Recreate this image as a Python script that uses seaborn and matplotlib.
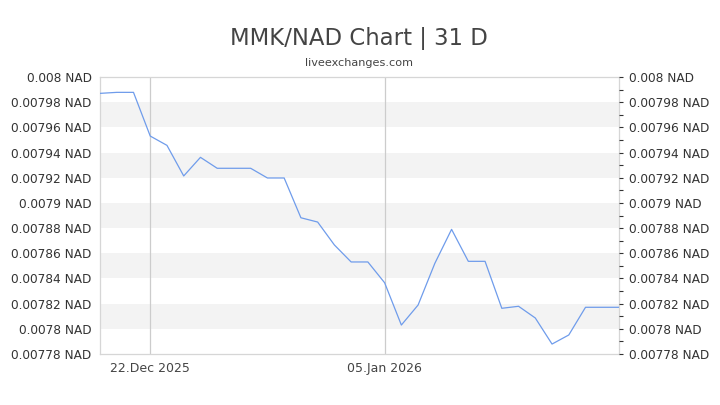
import matplotlib
matplotlib.use("Agg")
import matplotlib.pyplot as plt
import matplotlib.dates as mdates
from matplotlib.ticker import FixedLocator
import seaborn as sns
import pandas as pd

dates = pd.date_range("2025-12-19", "2026-01-19", freq="D")
rates = [0.0079870, 0.0079878, 0.0079878, 0.0079531, 0.0079457, 0.0079214,
         0.0079362, 0.0079275, 0.0079275, 0.0079275, 0.0079198, 0.0079198,
         0.0078882, 0.0078848, 0.0078666, 0.0078531, 0.0078531, 0.0078366,
         0.0078030, 0.0078189, 0.0078520, 0.0078790, 0.0078536, 0.0078536,
         0.0078163, 0.0078179, 0.0078086, 0.0077879, 0.0077951, 0.0078171,
         0.0078171, 0.0078171]
y_ticks = [0.00778, 0.0078, 0.00782, 0.00784, 0.00786, 0.00788, 0.0079,
           0.00792, 0.00794, 0.00796, 0.00798, 0.008]
y_labels = ["0.00778 NAD", "0.0078 NAD", "0.00782 NAD", "0.00784 NAD",
            "0.00786 NAD", "0.00788 NAD", "0.0079 NAD", "0.00792 NAD",
            "0.00794 NAD", "0.00796 NAD", "0.00798 NAD", "0.008 NAD"]
x_tick_dates = pd.to_datetime(["2025-12-22", "2026-01-05"])
x_labels = ["22.Dec 2025", "05.Jan 2026"]
title = "MMK/NAD Chart | 31 D"
subtitle = "liveexchanges.com"

df = pd.DataFrame({"date": dates, "rate": rates})

sns.set_theme(style="white")
plt.rcParams["font.family"] = ["DejaVu Sans"]

fig = plt.figure(figsize=(7.2, 4.05), dpi=100)
ax = fig.add_axes([100/720, 1-354/405, 519/720, 277/405])

# alternating bands
for i in range(len(y_ticks) - 1):
    if i % 2 == 1:
        ax.axhspan(y_ticks[i], y_ticks[i+1], color="#f3f3f3", lw=0, zorder=0)

for d in x_tick_dates:
    ax.axvline(d, color="#cccccc", lw=0.9, zorder=1)

sns.lineplot(data=df, x="date", y="rate", ax=ax, color="#6f9ceb", lw=0.9, zorder=3)

ax.set_xlim(dates[0], dates[-1])
ax.set_ylim(y_ticks[0], y_ticks[-1])
ax.set_xlabel("")
ax.set_ylabel("")
ax.set_yticks(y_ticks)
ax.set_yticklabels(y_labels)
ax.set_xticks(x_tick_dates)
ax.set_xticklabels(x_labels)
ax.tick_params(axis="y", length=0, pad=6, labelsize=8.7, colors="#333333")
ax.tick_params(axis="x", length=0, pad=6, labelsize=9, labelcolor="#444444")
for s in ax.spines.values():
    s.set_color("#d6d6d6")
    s.set_linewidth(0.9)
ax.grid(False)

ax2 = ax.twinx()
ax2.set_ylim(y_ticks[0], y_ticks[-1])
ax2.set_yticks(y_ticks)
ax2.set_yticklabels(y_labels)
minor = [y_ticks[0] + 0.00001 * k for k in range(1, 22, 2)]
ax2.yaxis.set_minor_locator(FixedLocator(minor))
ax2.tick_params(axis="y", which="major", length=3, width=0.8, color="#333333",
                pad=4, labelsize=8.7, labelcolor="#333333", right=True)
ax2.tick_params(axis="y", which="minor", length=3, width=0.8, color="#333333", right=True)
for s in ax2.spines.values():
    s.set_visible(False)
ax2.grid(False)

fig.text(359/720, 1-39/405, title, ha="center", va="center", fontsize=16.4, color="#444444")
fig.text(359/720, 1-63/405, subtitle, ha="center", va="center", fontsize=8.1, color="#444444")

fig.savefig("out.png", dpi=100)
